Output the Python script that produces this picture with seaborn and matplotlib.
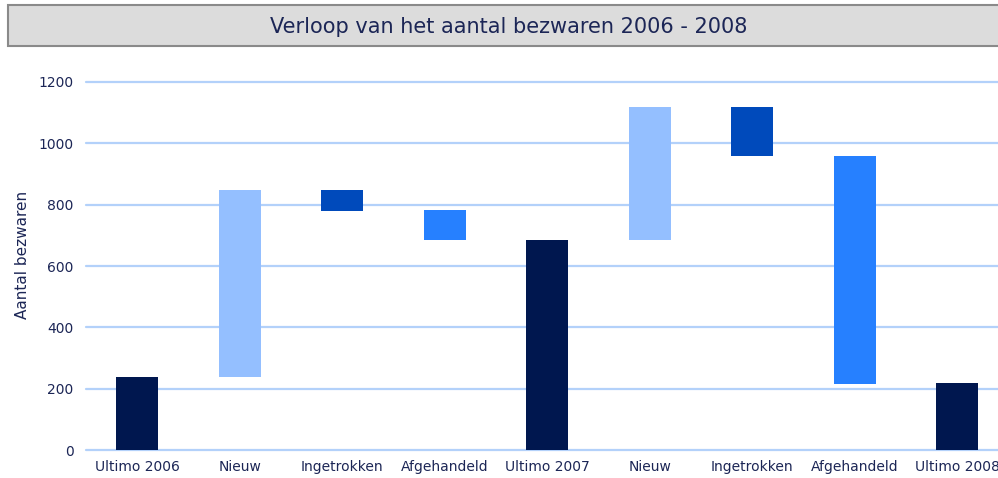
import matplotlib
matplotlib.use("Agg")
import matplotlib.pyplot as plt
import matplotlib.patches as mpatches
import seaborn as sns
import pandas as pd
import numpy as np

# ---- data ----
labels = ["Ultimo 2006", "Nieuw", "Ingetrokken", "Afgehandeld", "Ultimo 2007",
          "Nieuw", "Ingetrokken", "Afgehandeld", "Ultimo 2008"]
kinds = ["Ultimo", "Nieuw", "Ingetrokken", "Afgehandeld", "Ultimo",
         "Nieuw", "Ingetrokken", "Afgehandeld", "Ultimo"]
bar_top = [238, 848, 848, 782, 686, 1118, 1118, 959, 217]
bar_bottom = [0, 238, 780, 686, 0, 686, 959, 215, 0]
yticks = [0, 200, 400, 600, 800, 1000, 1200]
title = "Verloop van het aantal bezwaren 2006 - 2008"
ylabel = "Aantal bezwaren"

palette = {"Ultimo": "#00174f", "Nieuw": "#94bfff",
           "Ingetrokken": "#004abb", "Afgehandeld": "#2680ff"}
txt_color = "#1c2656"
grid_color = "#b3d1fa"

df = pd.DataFrame({"pos": list(range(len(labels))), "kind": kinds, "top": bar_top})

sns.set_style("white")
plt.rcParams["font.family"] = ["DejaVu Sans"]

W, H = 998, 478
fig = plt.figure(figsize=(W / 100, H / 100), dpi=100)
ax_left, ax_right = 86, 1008.5
ax_top, ax_bot = 82, 450
ax = fig.add_axes([ax_left / W, (H - ax_bot) / H, (ax_right - ax_left) / W, (ax_bot - ax_top) / H])

sns.barplot(data=df, x="pos", y="top", hue="kind", palette=palette, dodge=False,
            width=0.41, legend=False, ax=ax, order=list(range(len(labels))),
            linewidth=0, saturation=1, zorder=3)

for p in ax.patches:
    idx = int(round(p.get_x() + p.get_width() / 2))
    if 0 <= idx < len(labels) and p.get_height() > 0:
        p.set_y(bar_bottom[idx])
        p.set_height(bar_top[idx] - bar_bottom[idx])

ax.set_xlim(-0.5, len(labels) - 0.5)
ax.set_ylim(0, 1200)
ax.set_yticks(yticks)
ax.set_yticklabels([str(t) for t in yticks], fontsize=10, color=txt_color)
ax.set_xticks(range(len(labels)))
ax.set_xticklabels(labels, fontsize=10, color=txt_color)
ax.tick_params(axis="both", length=0)
ax.tick_params(axis="y", pad=9)
ax.tick_params(axis="x", pad=7)
ax.set_xlabel("")
ax.set_ylabel(ylabel, fontsize=11, color=txt_color)
ax.yaxis.set_label_coords(-56 / (ax_right - ax_left), (ax_bot - 255) / (ax_bot - ax_top))

for t in yticks:
    ax.axhline(t, color=grid_color, lw=1.6, zorder=1, clip_on=False)
for s in ax.spines.values():
    s.set_visible(False)
ax.grid(False)

# title box
rect = mpatches.Rectangle((8 / W, (H - 46) / H), (1030 - 8) / W, 41 / H,
                          transform=fig.transFigure, facecolor="#dcdcdc",
                          edgecolor="#8a8a8a", lw=1.5, clip_on=False)
fig.patches.append(rect)
fig.text(509 / W, (H - 27) / H, title, ha="center", va="center",
         fontsize=15, color=txt_color)

fig.savefig("out.png", dpi=100)
